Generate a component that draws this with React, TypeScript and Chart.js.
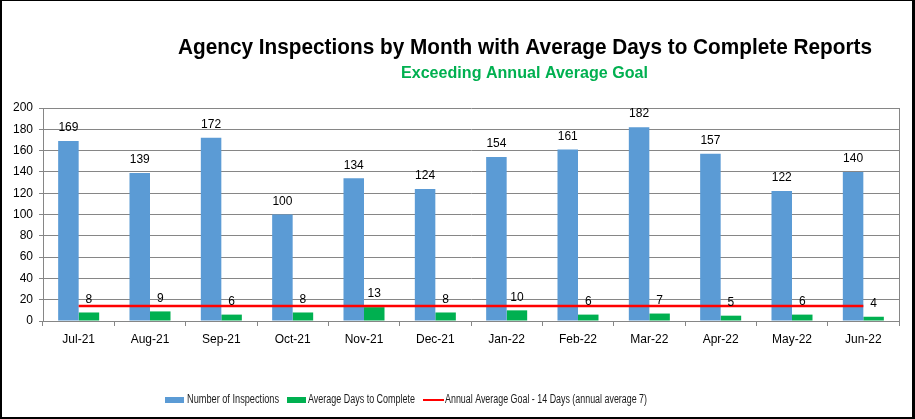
import React, { useEffect, useRef } from "react";
import { Chart, registerables } from "chart.js";

Chart.register(...registerables);

const months = ["Jul-21", "Aug-21", "Sep-21", "Oct-21", "Nov-21", "Dec-21", "Jan-22", "Feb-22", "Mar-22", "Apr-22", "May-22", "Jun-22"];
const inspections = [169, 139, 172, 100, 134, 124, 154, 161, 182, 157, 122, 140];
const avgDays = [8, 9, 6, 8, 13, 8, 10, 6, 7, 5, 6, 4];
const goal = [14, 14, 14, 14, 14, 14, 14, 14, 14, 14, 14, 14];
const yTicks = [0, 20, 40, 60, 80, 100, 120, 140, 160, 180, 200];

const titleText = "Agency Inspections by Month with Average Days to Complete Reports";
const subtitleText = "Exceeding Annual Average Goal";
const legendLabels = ["Number of Inspections", "Average Days to Complete", "Annual Average Goal - 14 Days (annual average 7)"];

const BLUE = "#5B9BD5";
const GREEN = "#00B050";
const RED = "#FF0000";
const GRID = "#868686";
const FONT = "'Liberation Sans', Arial, sans-serif";

function fitText(ctx: CanvasRenderingContext2D, text: string, x0: number, x1: number, y: number, font: string, color: string) {
  ctx.save();
  ctx.font = font;
  ctx.fillStyle = color;
  ctx.textAlign = "left";
  ctx.textBaseline = "middle";
  const w = ctx.measureText(text).width;
  ctx.translate(x0, y);
  ctx.scale((x1 - x0) / w, 1);
  ctx.fillText(text, 0, 0);
  ctx.restore();
}

const decorPlugin = {
  id: "decor",
  beforeDraw(chart: any) {
    const ctx = chart.ctx;
    ctx.save();
    ctx.fillStyle = "#ffffff";
    ctx.fillRect(0, 0, chart.width, chart.height);
    ctx.restore();
  },
  afterDatasetsDraw(chart: any) {
    const ctx = chart.ctx;
    ctx.save();
    ctx.font = `12px ${FONT}`;
    ctx.fillStyle = "#000000";
    ctx.textAlign = "center";
    ctx.textBaseline = "middle";
    chart.data.datasets.forEach((ds: any, di: number) => {
      if (ds.type !== "bar") return;
      const meta = chart.getDatasetMeta(di);
      meta.data.forEach((el: any, i: number) => {
        ctx.fillText(String(ds.data[i]), el.x, el.y - 13);
      });
    });
    ctx.restore();
  },
  afterDraw(chart: any) {
    const ctx = chart.ctx;
    const a = chart.chartArea;
    ctx.save();
    ctx.strokeStyle = GRID;
    ctx.lineWidth = 1;
    ctx.beginPath();
    ctx.moveTo(Math.round(a.right) + 0.5, a.top);
    ctx.lineTo(Math.round(a.right) + 0.5, a.bottom + 5);
    ctx.stroke();
    ctx.restore();

    fitText(ctx, titleText, 178, 872, 48, `bold 22px ${FONT}`, "#000000");
    fitText(ctx, subtitleText, 401, 648, 73, `bold 17px ${FONT}`, GREEN);

    ctx.save();
    ctx.fillStyle = BLUE;
    ctx.fillRect(165, 397, 19, 6);
    ctx.fillStyle = GREEN;
    ctx.fillRect(287, 397, 19, 6);
    ctx.strokeStyle = RED;
    ctx.lineWidth = 2;
    ctx.beginPath();
    ctx.moveTo(423, 400);
    ctx.lineTo(444, 400);
    ctx.stroke();
    ctx.restore();
    fitText(ctx, legendLabels[0], 187, 279, 400, `12px ${FONT}`, "#1a1a1a");
    fitText(ctx, legendLabels[1], 308, 415, 400, `12px ${FONT}`, "#1a1a1a");
    fitText(ctx, legendLabels[2], 445, 647, 400, `12px ${FONT}`, "#1a1a1a");

    ctx.save();
    ctx.fillStyle = "#000000";
    ctx.fillRect(0, 0, chart.width, 1);
    ctx.fillRect(0, 0, 2, chart.height);
    ctx.fillRect(chart.width - 3, 0, 3, chart.height);
    ctx.fillRect(0, chart.height - 2, chart.width, 2);
    ctx.restore();
  },
};

export default function App() {
  const ref = useRef<HTMLCanvasElement | null>(null);

  useEffect(() => {
    document.body.style.margin = "0";
    if (!ref.current) return;
    const chart = new Chart(ref.current, {
      type: "bar",
      data: {
        labels: months,
        datasets: [
          {
            type: "line",
            label: legendLabels[2],
            data: goal,
            borderColor: RED,
            backgroundColor: RED,
            borderWidth: 2.5,
            pointRadius: 0,
            order: 0,
          } as any,
          {
            type: "bar",
            label: legendLabels[0],
            data: inspections,
            backgroundColor: BLUE,
            categoryPercentage: 0.575,
            barPercentage: 1,
            order: 1,
          },
          {
            type: "bar",
            label: legendLabels[1],
            data: avgDays,
            backgroundColor: GREEN,
            categoryPercentage: 0.575,
            barPercentage: 1,
            order: 1,
          },
        ],
      },
      options: {
        responsive: false,
        devicePixelRatio: 1,
        animation: false,
        layout: { padding: { top: 108, right: 16, left: 0, bottom: 0 } },
        plugins: {
          legend: { display: false },
          title: { display: false },
          tooltip: { enabled: false },
        },
        scales: {
          x: {
            offset: true,
            grid: { display: true, drawOnChartArea: false, offset: true, tickLength: 5, color: GRID },
            border: { display: true, color: GRID },
            ticks: { font: { family: FONT, size: 12 }, color: "#000000", padding: 6, maxRotation: 0 },
            afterFit: (s: any) => { s.height = 98; },
          },
          y: {
            min: 0,
            max: 200,
            afterBuildTicks: (s: any) => { s.ticks = yTicks.map((v) => ({ value: v })); },
            grid: { color: GRID, tickLength: 4 },
            border: { display: true, color: GRID },
            ticks: { font: { family: FONT, size: 12 }, color: "#000000", padding: 6 },
            afterFit: (s: any) => { s.width = 43; },
          },
        },
      },
      plugins: [decorPlugin],
    });
    return () => chart.destroy();
  }, []);

  return <canvas ref={ref} width={915} height={419} style={{ display: "block" }} />;
}
